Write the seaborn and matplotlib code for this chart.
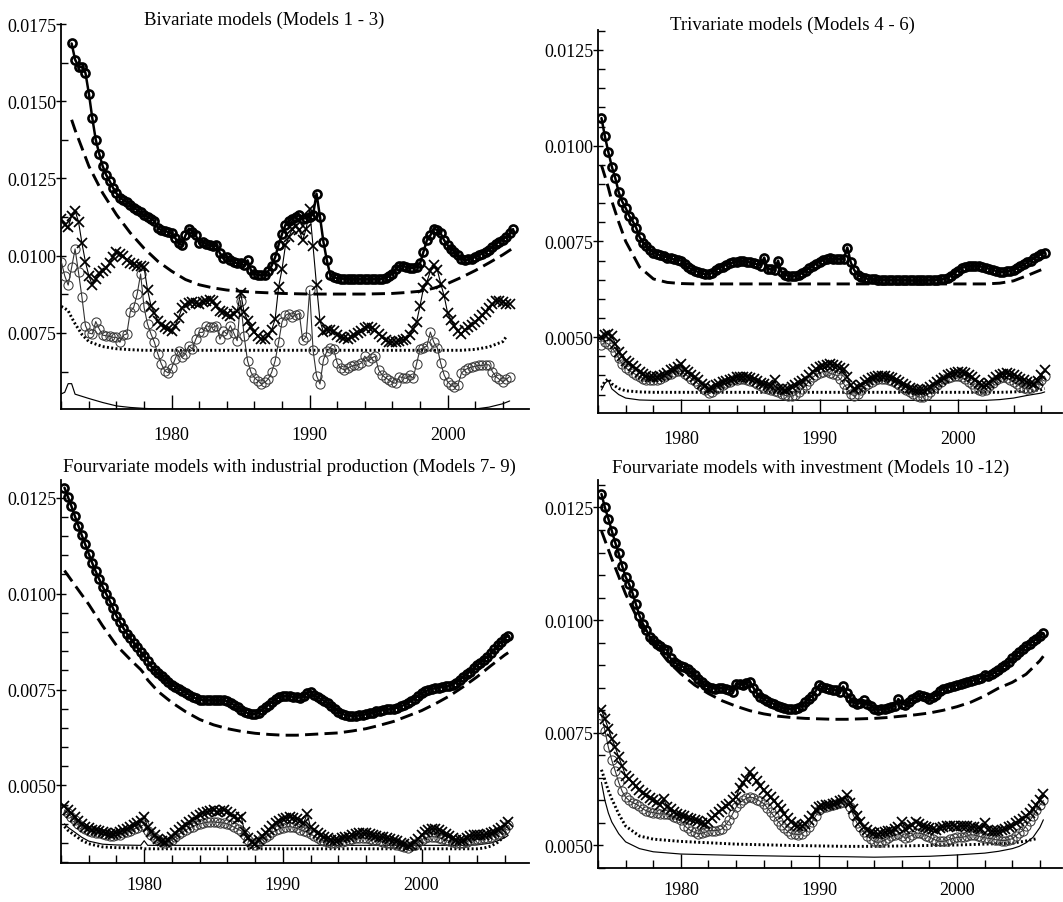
import numpy as np
import matplotlib
matplotlib.use("Agg")
import matplotlib.pyplot as plt
import seaborn as sns
from matplotlib.ticker import MultipleLocator, FormatStrFormatter

sns.set_style("ticks")
plt.rcParams["font.family"] = ["Liberation Serif", "DejaVu Serif"]
plt.rcParams["lines.scale_dashes"] = False

UNIT = 1e-5  # all series below are stored in units of 1e-5

TITLES = [
    "Bivariate models (Models 1 - 3)",
    "Trivariate models (Models 4 - 6)",
    "Fourvariate models with industrial production (Models 7- 9)",
    "Fourvariate models with investment (Models 10 -12)",
]

# ---------------- Panel 1: bivariate models ----------------
P1_TOP_START = 1972.75
P1_TOP = [1687,
          1635, 1612, 1610, 1592, 1525, 1445, 1375, 1330, 1290, 1262, 1242, 1220,
          1202, 1188, 1180, 1174, 1165, 1156, 1148, 1140, 1132, 1126, 1120, 1112,
          1090, 1083, 1080, 1077, 1072, 1058, 1040, 1034, 1066, 1088, 1078, 1066,
          1040, 1045, 1039, 1034, 1030, 1034, 1008, 992, 996, 985, 980, 975,
          975, 969, 985, 953, 942, 937, 937, 939, 950, 968, 995, 1035,
          1070, 1100, 1112, 1120, 1126, 1131, 1120, 1122, 1126, 1133, 1201, 1126,
          1045, 985, 937, 930, 928, 926, 926, 926, 926, 924, 924, 924,
          924, 924, 924, 925, 924, 926, 928, 934, 942, 958, 966, 968,
          964, 961, 961, 964, 975, 1012, 1050, 1066, 1088, 1083, 1072, 1050,
          1034, 1023, 1012, 1001, 991, 985, 988, 991, 996, 1001, 1007, 1012,
          1018, 1028, 1038, 1045, 1052, 1062, 1072, 1086]
P1_LOW_START = 1972.0
P1_X = [1119, 1100, 1092, 1129, 1146, 1110, 1040, 980, 935, 905, 925, 945,
        950, 960, 975, 995, 1012, 1005, 998, 985, 978, 972, 968, 966,
        962, 890, 838, 815, 790, 775, 768, 762, 757, 772, 800, 830,
        842, 846, 849, 846, 844, 849, 852, 858, 855, 838, 822, 818,
        812, 806, 812, 820, 881, 817, 790, 770, 752, 740, 732, 730,
        745, 760, 795, 898, 957, 1034, 1061, 1088, 1097, 1082, 1050, 1088,
        1150, 1030, 904, 790, 753, 760, 760, 757, 742, 738, 735, 731,
        737, 743, 750, 758, 766, 770, 766, 760, 748, 738, 728, 721,
        720, 722, 725, 728, 731, 745, 762, 785, 838, 894, 916, 950,
        970, 955, 910, 870, 815, 792, 772, 756, 748, 759, 770, 776,
        785, 795, 809, 818, 830, 843, 854, 852, 849, 845, 843]
P1_C = [981, 935, 905, 962, 1022, 946, 865, 774, 750, 747, 787, 763,
        743, 741, 739, 736, 736, 720, 743, 747, 819, 833, 876, 941,
        833, 779, 747, 720, 682, 650, 628, 621, 636, 666, 693, 671,
        682, 709, 698, 730, 752, 752, 774, 770, 768, 774, 730, 757,
        747, 774, 750, 725, 855, 740, 660, 623, 605, 596, 585, 590,
        601, 623, 660, 720, 786, 807, 813, 802, 809, 813, 726, 737,
        888, 694, 612, 585, 663, 691, 702, 697, 653, 636, 631, 636,
        642, 645, 647, 653, 675, 658, 669, 675, 631, 614, 605, 598,
        590, 587, 609, 605, 603, 614, 603, 650, 697, 702, 708, 753,
        720, 702, 653, 614, 592, 581, 575, 581, 620, 631, 636, 640,
        642, 645, 645, 647, 647, 625, 609, 600, 592, 600, 609]
P1_DASH_YEARS = [1972.75] + list(range(1973, 2005)) + [2004.75]
P1_DASH = [1440, 1407, 1290, 1203, 1133, 1074, 1024, 982, 950, 923, 906, 896,
           889, 885, 882, 880, 878, 877, 876, 876, 876, 876, 876, 877, 878,
           881, 885, 895, 910, 930, 952, 977, 1003, 1025]
P1_DOT_YEARS = [1972.0, 1972.25, 1972.5, 1972.75, 1973.0, 1973.5, 1974, 1975,
                1976, 1977, 1978, 2001, 2002, 2003, 2004, 2004.25]
P1_DOT = [836, 830, 822, 800, 780, 745, 722, 706, 699, 696, 694, 694, 697,
          705, 722, 738]
P1_SOLID_YEARS = [1972.0, 1972.25, 1972.5, 1972.75, 1973.0, 1974, 1975, 1976,
                  1977, 1978, 1979, 1980, 2001, 2002, 2003, 2004, 2004.5]
P1_SOLID = [553, 558, 586, 586, 552, 538, 525, 514, 509, 506, 504, 503, 503,
            504, 510, 521, 530]

# ---------------- Panel 2: trivariate models ----------------
P2_START = 1974.25
P2_TOP = [1072, 1024, 983,
          945, 915, 878, 854, 837, 817, 803, 786, 762, 747, 738, 728,
          721, 717, 714, 711, 708, 706, 703, 702, 700, 690, 682, 678,
          674, 670, 667, 664, 664, 668, 676, 680, 684, 689, 693, 695,
          697, 699, 700, 697, 695, 693, 690, 687, 708, 678, 677, 676,
          700, 670, 663, 660, 659, 660, 662, 668, 673, 680, 686, 692,
          697, 701, 704, 706, 705, 704, 704, 705, 734, 695, 675, 663,
          658, 655, 652, 651, 651, 650, 650, 650, 650, 649, 649, 649,
          649, 649, 648, 648, 648, 648, 649, 649, 649, 650, 650, 651,
          652, 655, 661, 668, 674, 680, 684, 687, 687, 687, 686, 684,
          681, 679, 676, 673, 670, 670, 672, 673, 676, 680, 685, 690,
          695, 700, 706, 712, 717, 720]
P2_X = [500, 505, 509,
        504, 483, 461, 450, 439, 432, 425, 417, 409, 404, 398, 396,
        396, 397, 398, 402, 407, 413, 417, 422, 429, 413, 409, 402,
        396, 387, 378, 372, 365, 368, 374, 378, 383, 386, 389, 392,
        396, 397, 397, 396, 393, 391, 386, 381, 378, 375, 372, 387,
        365, 364, 363, 365, 370, 375, 380, 385, 390, 400, 410, 418,
        422, 426, 428, 430, 428, 425, 420, 416, 396, 374, 365, 370,
        376, 383, 389, 393, 396, 398, 398, 398, 396, 393, 389, 383,
        378, 372, 367, 364, 363, 361, 362, 364, 370, 376, 382, 388,
        394, 400, 404, 407, 408, 409, 406, 402, 396, 388, 381, 374,
        375, 381, 389, 396, 402, 405, 407, 404, 401, 397, 392, 387,
        383, 380, 378, 385, 400, 413]
P2_C = [480, 487, 482,
        474, 460, 445, 430, 420, 413, 407, 402, 397, 392, 389, 387,
        387, 388, 390, 395, 400, 405, 409, 411, 411, 404, 398, 392,
        385, 378, 370, 362, 355, 358, 364, 370, 375, 380, 384, 387,
        389, 391, 390, 389, 386, 382, 377, 372, 368, 364, 361, 359,
        356, 352, 348, 346, 346, 350, 357, 365, 375, 386, 395, 402,
        407, 410, 411, 406, 403, 400, 390, 378, 365, 352, 346, 352,
        362, 372, 378, 384, 388, 391, 391, 391, 388, 385, 380, 374,
        368, 362, 357, 352, 347, 343, 345, 350, 358, 367, 376, 384,
        390, 394, 397, 398, 398, 395, 390, 384, 377, 368, 361, 359,
        363, 372, 381, 388, 393, 396, 394, 389, 384, 378, 371, 366,
        365, 368, 372, 378, 388, 398]
P2_DASH_YEARS = [1974.25, 1974.5, 1974.75, 1975, 1975.5] + list(range(1976, 2007))
P2_DASH = [949, 920, 890, 855, 800, 750, 683, 652, 643, 640,
           639, 639, 639, 639, 639, 639, 639, 639, 639, 639, 639,
           639, 639, 639, 639, 639, 639, 639, 639, 639, 639, 639,
           641, 647, 661, 676]
P2_DOT_YEARS = [1974.25, 1974.5, 1974.75, 1975.0, 1975.5, 1976, 1977, 1978,
                2003, 2004, 2005, 2006, 2006.25]
P2_DOT = [368, 385, 391, 378, 366, 360, 357, 356, 356, 357, 359, 363, 366]
P2_SOLID_YEARS = [1974.25, 1974.5, 1974.75, 1975.0, 1975.5, 1976, 1977, 1978,
                  2002, 2003, 2004, 2005, 2006, 2006.25]
P2_SOLID = [362, 380, 387, 365, 350, 341, 336, 335, 335, 337, 341, 348, 354, 357]

# ------- Panel 3: four-variable models with industrial production -------
P3_START = 1974.25
P3_TOP = [1276, 1252, 1228,
          1202, 1177, 1152, 1128, 1104, 1080, 1058, 1038, 1018, 1000, 982, 962,
          942, 926, 910, 896, 883, 872, 860, 848, 837, 825, 811, 800,
          792, 785, 777, 770, 762, 757, 751, 747, 742, 736, 730, 727,
          724, 722, 722, 722, 723, 722, 722, 722, 720, 715, 709, 704,
          697, 692, 688, 685, 686, 690, 697, 704, 711, 718, 725, 730,
          733, 733, 733, 731, 730, 729, 733, 740, 744, 735, 730, 725,
          720, 714, 707, 700, 692, 687, 684, 682, 682, 682, 683, 684,
          686, 688, 690, 693, 695, 697, 698, 699, 700, 703, 706, 710,
          715, 720, 726, 733, 740, 745, 749, 752, 754, 755, 757, 758,
          759, 763, 768, 775, 782, 790, 797, 805, 813, 820, 828, 836,
          845, 855, 865, 875, 885, 889]
P3_X = [446, 436, 428,
        418, 408, 399, 393, 388, 385, 383, 382, 378, 375, 374, 374,
        376, 379, 383, 387, 392, 398, 403, 408, 418, 391, 380, 370,
        361, 356, 354, 357, 367, 376, 384, 391, 398, 405, 411, 418,
        423, 427, 432, 434, 435, 432, 434, 435, 431, 425, 418, 413,
        418, 378, 362, 352, 348, 358, 368, 376, 385, 394, 402, 408,
        412, 415, 418, 416, 413, 407, 402, 426, 391, 384, 376, 370,
        366, 362, 358, 358, 359, 362, 365, 367, 370, 373, 375, 376,
        375, 374, 372, 369, 367, 365, 363, 361, 359, 355, 351, 347,
        342, 346, 352, 361, 372, 378, 383, 387, 386, 383, 378, 373,
        368, 362, 358, 358, 359, 363, 368, 370, 370, 371, 372, 374,
        377, 380, 383, 389, 396, 405]
P3_C = [436, 428, 419,
        410, 400, 392, 386, 382, 379, 377, 376, 373, 370, 369, 369,
        370, 372, 375, 378, 382, 386, 390, 394, 398, 382, 372, 364,
        357, 352, 350, 352, 359, 366, 373, 379, 384, 389, 393, 397,
        400, 402, 404, 405, 405, 404, 403, 402, 400, 396, 391, 386,
        382, 370, 358, 350, 346, 352, 360, 366, 372, 378, 383, 387,
        390, 392, 393, 391, 389, 385, 381, 378, 374, 368, 363, 359,
        356, 353, 351, 351, 352, 354, 356, 358, 360, 362, 363, 363,
        362, 361, 359, 357, 355, 353, 351, 349, 347, 345, 342, 340,
        338, 341, 346, 352, 359, 363, 366, 367, 366, 364, 361, 358,
        355, 352, 350, 350, 351, 354, 357, 359, 360, 361, 362, 364,
        367, 370, 374, 380, 387, 396]
P3_DASH_YEARS = [1974.25, 1975, 1976, 1977, 1978, 1979, 1979.75, 1980,
                 1980.25] + list(range(1981, 2007)) + [2006.25]
P3_DASH = [1060, 1022, 972, 916, 865, 828, 802, 791, 775,
           745, 716, 692, 672, 658, 648, 641, 636, 633, 631, 631, 633, 635,
           637, 642, 648, 657, 667, 681, 695, 713, 733, 757, 783, 812, 840,
           846]
P3_DOT_YEARS = [1974.25, 1974.5, 1975, 1975.5, 1976, 1977, 1978, 1979.75,
                1980, 2004, 2004.5, 2005, 2005.5, 2006, 2006.25]
P3_DOT = [393, 383, 370, 357, 348, 340, 338, 337, 335, 335, 337, 342, 352,
          368, 378]
P3_SOLID_YEARS = [1974.25, 1974.5, 1975, 1975.5, 1976, 1977, 1978, 1979.75,
                  1980, 1980.25, 1990, 2003, 2004, 2005, 2005.5, 2006, 2006.25]
P3_SOLID = [400, 391, 378, 365, 355, 347, 345, 344, 356, 344, 344, 344, 345,
            350, 356, 364, 370]

# ------- Panel 4: four-variable models with investment -------
P4_START = 1974.25
P4_TOP = [1280, 1250, 1225,
          1198, 1172, 1148, 1120, 1096, 1080, 1060, 1035, 1010, 992, 978, 963,
          955, 948, 942, 936, 934, 915, 908, 902, 899, 895, 891, 884,
          878, 870, 862, 856, 852, 850, 848, 850, 850, 848, 846, 841,
          859, 858, 857, 860, 863, 850, 838, 830, 825, 820, 817, 814,
          810, 807, 805, 803, 803, 803, 806, 810, 818, 826, 832, 842,
          855, 851, 849, 847, 846, 844, 840, 853, 838, 828, 818, 814,
          816, 822, 815, 810, 803, 801, 802, 803, 805, 807, 810, 825,
          815, 812, 818, 825, 829, 833, 831, 829, 825, 829, 834, 842,
          848, 850, 852, 854, 856, 859, 861, 863, 865, 867, 869, 871,
          878, 875, 880, 884, 889, 895, 901, 907, 915, 923, 930, 936,
          942, 948, 953, 958, 964, 971]
P4_X = [800, 781, 759,
        737, 718, 696, 676, 655, 647, 639, 631, 622, 617, 612, 606,
        600, 596, 590, 604, 585, 580, 574, 570, 568, 565, 562, 559,
        557, 554, 550, 547, 553, 562, 568, 575, 580, 587, 593, 600,
        607, 628, 638, 648, 663, 652, 642, 633, 624, 615, 607, 598,
        590, 580, 570, 560, 552, 546, 544, 544, 548, 556, 565, 578,
        585, 587, 589, 590, 592, 595, 598, 602, 611, 595, 580, 565,
        552, 542, 535, 530, 527, 526, 527, 529, 533, 533, 536, 541,
        552, 537, 542, 546, 552, 548, 544, 541, 539, 537, 535, 538,
        541, 543, 544, 544, 541, 543, 544, 544, 542, 540, 538, 537,
        550, 534, 532, 531, 532, 534, 537, 540, 544, 549, 554, 559,
        566, 572, 581, 590, 602, 615]
P4_C = [789, 755, 718,
        689, 665, 640, 620, 607, 600, 595, 592, 587, 581, 577, 574,
        573, 571, 570, 570, 569, 567, 563, 560, 556, 544, 538, 532,
        529, 526, 527, 529, 533, 533, 533, 534, 537, 546, 556, 570,
        585, 594, 600, 605, 607, 606, 602, 598, 593, 584, 574, 565,
        555, 546, 538, 531, 526, 525, 524, 526, 532, 541, 552, 565,
        578, 583, 586, 588, 590, 592, 594, 596, 600, 585, 567, 550,
        541, 530, 522, 514, 509, 507, 508, 512, 516, 520, 523, 526,
        522, 516, 519, 523, 528, 527, 526, 522, 519, 515, 511, 509,
        509, 511, 514, 516, 518, 518, 519, 521, 524, 523, 521, 519,
        517, 516, 515, 513, 512, 511, 511, 513, 515, 521, 528, 533,
        544, 555, 565, 578, 590, 600]
P4_DASH_YEARS = [1974.25] + list(range(1975, 2007)) + [2006.25]
P4_DASH = [1198, 1136, 1058, 995, 950, 911, 881, 856, 837, 821, 809, 799,
           792, 787, 784, 782, 781, 780, 780, 781, 782, 784, 787, 790, 794,
           800, 808, 818, 832, 849, 862, 880, 910, 920]
P4_DOT_YEARS = [1974.25, 1974.5, 1974.75, 1975, 1975.5, 1976, 1977, 1978,
                1980, 1984, 1988, 1992, 1994, 1998, 2000, 2002, 2003, 2004,
                2005, 2005.75]
P4_DOT = [668, 645, 622, 603, 570, 543, 521, 514, 509, 503, 500, 498, 498,
          500, 501, 503, 504, 505, 510, 515]
P4_SOLID_YEARS = [1974.25, 1974.5, 1974.75, 1975, 1975.5, 1976, 1977, 1978,
                  1980, 1984, 1988, 1992, 1994, 1998, 2000, 2002, 2003, 2004,
                  2004.5, 2005, 2005.5, 2006, 2006.25]
P4_SOLID = [640, 600, 572, 552, 526, 508, 493, 486, 481, 478, 476, 475, 474,
            476, 479, 483, 487, 493, 498, 506, 518, 540, 557]

# ---------------- styles ----------------
STYLE_TOP = dict(color="black", linewidth=1.8, marker="o", markersize=5.8,
                 markerfacecolor="none", markeredgecolor="black",
                 markeredgewidth=1.9, zorder=6)
STYLE_DASH = dict(color="black", linewidth=2.1, linestyle=(0, (9.5, 4.5)),
                  zorder=5)
STYLE_X = dict(color="black", linewidth=0.8, marker="x", markersize=7.0,
               markeredgecolor="black", markeredgewidth=1.25, zorder=4)
STYLE_C = dict(color="#333333", linewidth=0.8, marker="o", markersize=6.6,
               markerfacecolor="none", markeredgecolor="#3a3a3a",
               markeredgewidth=0.75, zorder=3)
STYLE_DOT = dict(color="black", linewidth=2.1, linestyle=(0, (1.4, 1.7)),
                 zorder=2)
STYLE_SOLID = dict(color="black", linewidth=0.85, zorder=2)


def quarterly(start, vals):
    return start + 0.25 * np.arange(len(vals))


def draw(ax, x, vals, style):
    sns.lineplot(x=np.asarray(x, dtype=float),
                 y=np.asarray(vals, dtype=float) * UNIT,
                 ax=ax, estimator=None, errorbar=None, sort=False,
                 legend=False, **style)


PANELS = [
    dict(top=(P1_TOP_START, P1_TOP),
         x=(P1_LOW_START, P1_X), c=(P1_LOW_START, P1_C),
         dash=(P1_DASH_YEARS, P1_DASH), dot=(P1_DOT_YEARS, P1_DOT),
         solid=(P1_SOLID_YEARS, P1_SOLID),
         box=(61, 25, 529, 410), xlim=(1971.98, 2005.9),
         ylim=(0.00504, 0.01750), yminor=0.00125, xpad=12),
    dict(top=(P2_START, P2_TOP), x=(P2_START, P2_X), c=(P2_START, P2_C),
         dash=(P2_DASH_YEARS, P2_DASH), dot=(P2_DOT_YEARS, P2_DOT),
         solid=(P2_SOLID_YEARS, P2_SOLID),
         box=(598, 31, 1062, 414), xlim=(1974.0, 2007.5),
         ylim=(0.00302, 0.01302), yminor=0.0005, xpad=12),
    dict(top=(P3_START, P3_TOP), x=(P3_START, P3_X), c=(P3_START, P3_C),
         dash=(P3_DASH_YEARS, P3_DASH), dot=(P3_DOT_YEARS, P3_DOT),
         solid=(P3_SOLID_YEARS, P3_SOLID),
         box=(61, 481, 529, 864), xlim=(1974.0, 2007.75),
         ylim=(0.00298, 0.01296), yminor=0.0005, xpad=9.5),
    dict(top=(P4_START, P4_TOP), x=(P4_START, P4_X), c=(P4_START, P4_C),
         dash=(P4_DASH_YEARS, P4_DASH), dot=(P4_DOT_YEARS, P4_DOT),
         solid=(P4_SOLID_YEARS, P4_SOLID),
         box=(598, 481, 1062, 869), xlim=(1974.0, 2007.6),
         ylim=(0.00450, 0.01311), yminor=0.0005, xpad=9.5),
]
TITLE_POS = [(264, 20), (792, 25), (289, 467), (811, 468)]

W, H = 1063, 903
fig = plt.figure(figsize=(W / 100, H / 100), dpi=100)

for p, title, (tx, ty) in zip(PANELS, TITLES, TITLE_POS):
    l, t, r, b = p["box"]
    ax = fig.add_axes([l / W, 1 - b / H, (r - l) / W, (b - t) / H])
    ax.set_facecolor("white")

    draw(ax, *p["solid"], STYLE_SOLID)
    draw(ax, *p["dot"], STYLE_DOT)
    draw(ax, quarterly(*p["c"]), p["c"][1], STYLE_C)
    draw(ax, quarterly(*p["x"]), p["x"][1], STYLE_X)
    draw(ax, *p["dash"], STYLE_DASH)
    draw(ax, quarterly(*p["top"]), p["top"][1], STYLE_TOP)

    ax.set_xlim(*p["xlim"])
    ax.set_ylim(*p["ylim"])
    ax.set_xlabel("")
    ax.set_ylabel("")

    ax.xaxis.set_major_locator(MultipleLocator(10))
    ax.xaxis.set_minor_locator(MultipleLocator(2))
    ax.yaxis.set_major_locator(MultipleLocator(0.0025))
    ax.yaxis.set_minor_locator(MultipleLocator(p["yminor"]))
    ax.yaxis.set_major_formatter(FormatStrFormatter("%.4f"))
    ax.xaxis.set_major_formatter(FormatStrFormatter("%d"))

    for side in ("top", "right"):
        ax.spines[side].set_visible(False)
    for side in ("left", "bottom"):
        ax.spines[side].set_color("black")
        ax.spines[side].set_linewidth(1.3)

    ax.tick_params(axis="both", which="both", bottom=True, left=True,
                   top=False, right=False, color="black")
    ax.tick_params(axis="x", which="major", direction="in", length=10,
                   width=1.0, pad=p["xpad"], labelsize=13, labelcolor="black")
    ax.tick_params(axis="x", which="minor", direction="in", length=6,
                   width=1.0)
    ax.tick_params(axis="y", which="major", direction="inout", length=7,
                   width=1.0, pad=0, labelsize=13, labelcolor="black")
    ax.tick_params(axis="y", which="minor", direction="in", length=5,
                   width=1.0)

    fig.text(tx / W, 1 - ty / H, title, ha="center", va="center",
             fontsize=13.5, color="black")

fig.savefig("out.png", dpi=100, facecolor="white")
